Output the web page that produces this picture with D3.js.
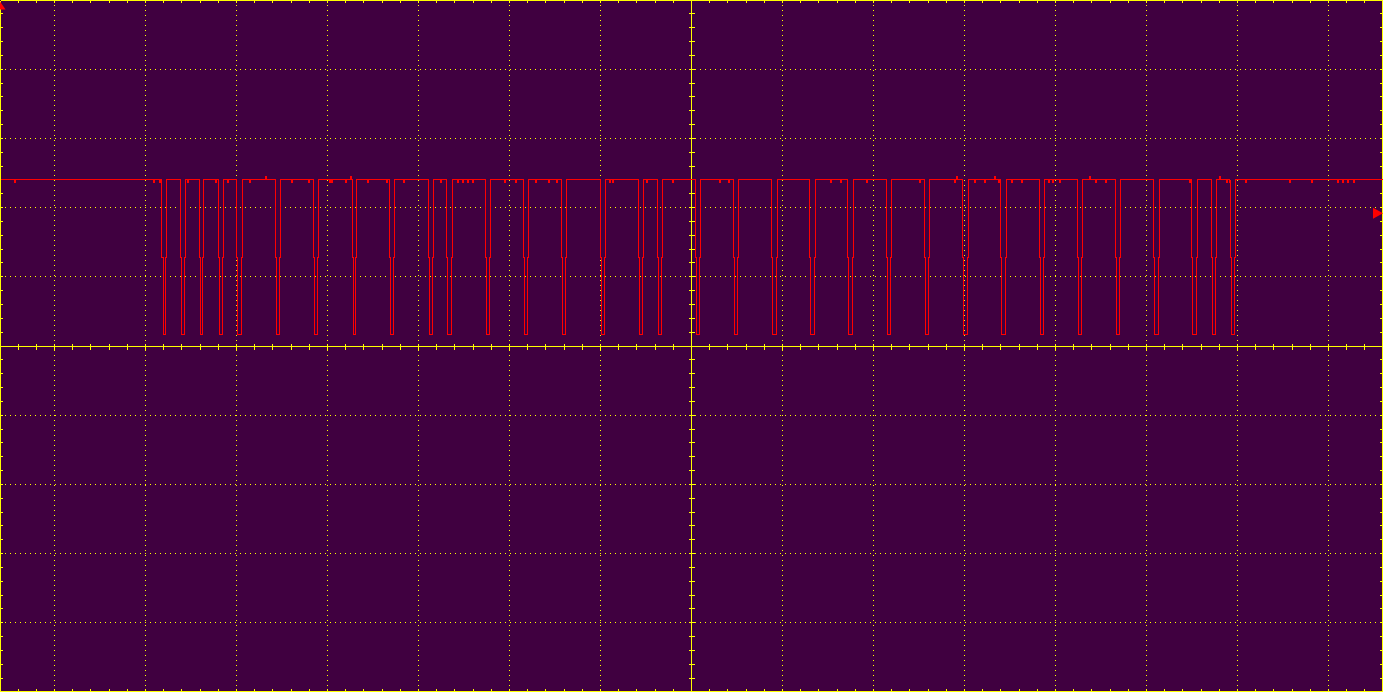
<!DOCTYPE html>
<html><head><meta charset="utf-8">
<script src="https://cdn.jsdelivr.net/npm/d3@7"></script>
<style>html,body{margin:0;padding:0;background:#400040;overflow:hidden}svg{display:block}</style>
</head><body>
<svg id="scope" width="1383" height="692"></svg>
<script>
// ---- Data ----
// time axis in µs (100 µs/div), voltage axis in V (1 V/div)
const timeDomain = [-760, 760];
const voltDomain = [-5, 5];
const timeGridLines = [-700, -600, -500, -400, -300, -200, -100, 0, 100, 200, 300, 400, 500, 600, 700];
const voltGridLines = [-4, -3, -2, -1, 0, 1, 2, 3, 4];
const minorStepTime = 20;
const minorStepVolt = 0.2;

const levelHigh = 2.41;
const levelEdge = 1.29;
const levelLow = 0.18;
const levelDip = 2.37;
const levelBump = 2.45;
const edgeSampleGap = 1.2;
const glitchWidth = 1.1;
const triggerLevel = 1.92;

const pulseFall = [-582.6, -561.8, -540.9, -520.0, -500.2, -457.4, -416.3, -372.7, -332.4, -289.2,
  -269.5, -227.3, -184.8, -143.1, -100.5, -59.1, -38.2, 4.2, 45.9, 87.7,
  129.5, 171.2, 214.1, 255.8, 297.6, 339.0, 381.9, 423.6, 465.7, 507.5,
  549.2, 571.2, 592.1];
const pulseRise = [-577.1, -556.6, -536.5, -515.2, -494.0, -452.2, -410.4, -368.4, -326.6, -284.1,
  -263.2, -221.4, -179.3, -137.6, -94.7, -53.0, -32.7, 9.3, 51.4, 94.3,
  135.7, 177.8, 219.6, 261.3, 303.8, 345.9, 387.7, 429.5, 471.2, 513.7,
  555.8, 576.7, 596.9];
const dipTimes = [-744.2, -591.4, -585.2, -554.4, -523.2, -510.1, -485.9, -439.8, -421.4, -398.7,
  -396.2, -380.4, -356.3, -336.0, -317.0, -276.0, -257.4, -252.5, -247.0, -240.9,
  -205.7, -194.0, -171.6, -157.4, -148.6, -90.7, -87.7, -50.0, -21.4, 30.2,
  40.4, 152.2, 163.2, 191.8, 250.3, 288.8, 310.8, 321.8, 337.2, 351.4,
  361.8, 391.8, 396.2, 403.5, 443.7, 454.7, 546.7, 587.4, 590.3, 607.9,
  656.6, 680.4, 709.4, 714.5, 720.0, 726.6];
const bumpTimes = [-468.4, -375.2, 290.8, 332.4, 436.5, 579.4];

// ---- Drawing ----
const W = 1383, H = 692;
const svg = d3.select('#scope');
const x = d3.scaleLinear().domain(timeDomain).range([0, W]);
const y = d3.scaleLinear().domain(voltDomain).range([H, 0]);
const px = v => Math.floor(x(v)) + 0.5;
const py = v => Math.floor(y(v)) + 0.5;
const YEL = '#ffff00';

svg.append('rect').attr('width', W).attr('height', H).attr('fill', '#400040');

const g = svg.append('g').attr('shape-rendering', 'crispEdges');

// dotted graticule
g.selectAll('line.vg').data(timeGridLines.filter(d => d !== 0)).join('line')
  .attr('x1', d => px(d)).attr('x2', d => px(d)).attr('y1', 0).attr('y2', H)
  .attr('stroke', YEL).attr('stroke-width', 1).attr('stroke-dasharray', '1 4');
g.selectAll('line.hg').data(voltGridLines.filter(d => d !== 0)).join('line')
  .attr('y1', d => py(d)).attr('y2', d => py(d)).attr('x1', 0).attr('x2', W)
  .attr('stroke', YEL).attr('stroke-width', 1).attr('stroke-dasharray', '1 4');

// border and centre axes
const frame = [
  [0.5, 0.5, W - 0.5, 0.5], [0.5, H - 0.5, W - 0.5, H - 0.5],
  [0.5, 0.5, 0.5, H - 0.5], [W - 0.5, 0.5, W - 0.5, H - 0.5],
  [px(0), 0, px(0), H], [0, py(0), W, py(0)]
];
g.selectAll('line.fr').data(frame).join('line')
  .attr('x1', d => d[0]).attr('y1', d => d[1]).attr('x2', d => d[2]).attr('y2', d => d[3])
  .attr('stroke', YEL).attr('stroke-width', 1);

// minor ticks
const tTicks = d3.range(timeDomain[0] + minorStepTime, timeDomain[1], minorStepTime).map(v => Math.round(v));
const vTicks = d3.range(voltDomain[0] + minorStepVolt, voltDomain[1] - 1e-9, minorStepVolt).map(v => Math.round(v * 10) / 10);
const tickLen = 3;
const ticks = [];
tTicks.forEach(t => {
  const xx = px(t);
  ticks.push([xx, 0, xx, tickLen]);
  ticks.push([xx, H - tickLen, xx, H]);
  ticks.push([xx, py(0) - tickLen, xx, py(0) + tickLen]);
});
vTicks.forEach(v => {
  const yy = py(v);
  ticks.push([0, yy, tickLen, yy]);
  ticks.push([W - tickLen, yy, W, yy]);
  ticks.push([px(0) - tickLen, yy, px(0) + tickLen, yy]);
});
g.selectAll('line.tk').data(ticks).join('line')
  .attr('x1', d => d[0]).attr('y1', d => d[1]).attr('x2', d => d[2]).attr('y2', d => d[3])
  .attr('stroke', YEL).attr('stroke-width', 1);

// trace samples
const samples = [[timeDomain[0], levelHigh]];
pulseFall.forEach((f, i) => {
  const r = pulseRise[i];
  samples.push([f, levelEdge], [f + edgeSampleGap, levelLow], [r - edgeSampleGap, levelEdge], [r, levelHigh]);
});
dipTimes.forEach(t => samples.push([t, levelDip], [t + glitchWidth, levelHigh]));
bumpTimes.forEach(t => samples.push([t, levelBump], [t + glitchWidth, levelHigh]));
samples.push([timeDomain[1], levelHigh]);
samples.sort((a, b) => a[0] - b[0]);

const line = d3.line().x(d => Math.round(x(d[0])) + 0.5).y(d => Math.round(y(d[1])) + 0.5).curve(d3.curveStepAfter);
svg.append('path').datum(samples).attr('d', line)
  .attr('fill', 'none').attr('stroke', '#ff0000').attr('stroke-width', 1)
  .attr('shape-rendering', 'crispEdges');

// trigger position marker (top-left) and trigger level marker (right)
const ty = y(triggerLevel);
const markers = [
  [[0, 1.5], [0, 9.5], [5.5, 9.5]],
  [[W - 10, ty - 5.5], [W - 10, ty + 5.5], [W, ty]]
];
svg.selectAll('polygon.mk').data(markers).join('polygon')
  .attr('points', d => d.map(p => p.join(',')).join(' '))
  .attr('fill', '#ff0000');
</script>
</body></html>
